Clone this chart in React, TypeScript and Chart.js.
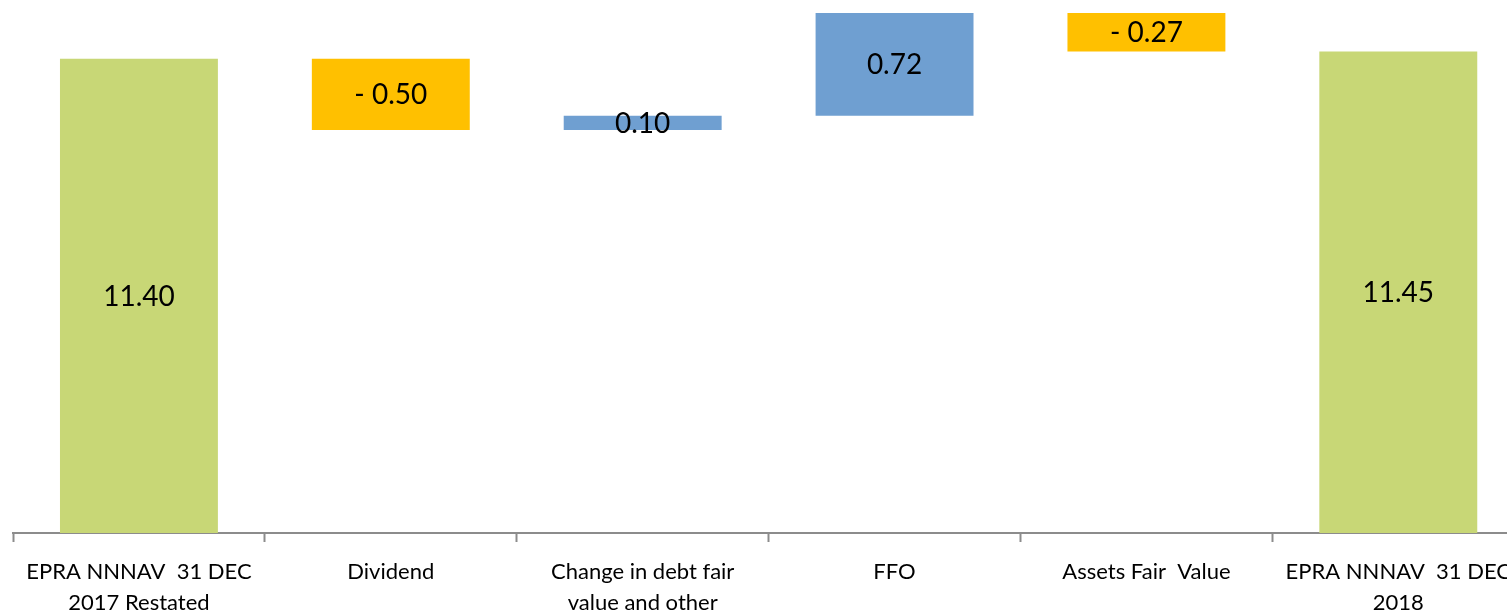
import React, { useEffect, useRef } from "react";
import { Chart, registerables } from "chart.js";

Chart.register(...registerables);

// NAV bridge, EUR per share
const categories: (string | string[])[] = [
  ["EPRA NNNAV  31 DEC", "2017 Restated"],
  "Dividend",
  ["Change in debt fair", "value and other"],
  "FFO",
  "Assets Fair  Value",
  ["EPRA NNNAV  31 DEC", "2018"],
];
const steps: number[] = [11.4, -0.5, 0.1, 0.72, -0.27, 11.45];
const isTotal: boolean[] = [true, false, false, false, false, true];

const Y_MIN = 8.076;
const Y_MAX = 11.811;

const GREEN = "#C8D776";
const YELLOW = "#FFC000";
const BLUE = "#6F9FD1";

// floating [from, to] ranges: totals rise from zero, steps chain from the running total
function buildRanges(): [number, number][] {
  let running = 0;
  return steps.map((v, i) => {
    if (isTotal[i]) {
      running = v;
      return [0, v];
    }
    const from = running;
    running = +(running + v).toFixed(4);
    return [from, running];
  });
}

function formatValue(v: number, total: boolean): string {
  if (total) return v.toFixed(2);
  return v < 0 ? "- " + Math.abs(v).toFixed(2) : v.toFixed(2);
}

const valueLabels = {
  id: "valueLabels",
  afterDatasetsDraw(chart: any) {
    const ctx = chart.ctx;
    const area = chart.chartArea;
    const meta = chart.getDatasetMeta(0);
    ctx.save();
    ctx.fillStyle = "#000";
    ctx.font = "28px Lato";
    ctx.textAlign = "center";
    ctx.textBaseline = "middle";
    meta.data.forEach((bar: any, i: number) => {
      const top = Math.max(Math.min(bar.y, bar.base), area.top);
      const bottom = Math.min(Math.max(bar.y, bar.base), area.bottom);
      ctx.fillText(formatValue(steps[i], isTotal[i]), bar.x, (top + bottom) / 2 + 1);
    });
    ctx.restore();
  },
};

export default function App() {
  const ref = useRef<HTMLCanvasElement>(null);

  useEffect(() => {
    if (!ref.current) return;
    const colors = steps.map((v, i) => (isTotal[i] ? GREEN : v < 0 ? YELLOW : BLUE));
    const chart = new Chart(ref.current, {
      type: "bar",
      data: {
        labels: categories as any,
        datasets: [
          {
            data: buildRanges() as any,
            backgroundColor: colors,
            borderWidth: 0,
            categoryPercentage: 0.627,
            barPercentage: 1,
          },
        ],
      },
      options: {
        animation: false,
        responsive: false,
        maintainAspectRatio: false,
        layout: { padding: { left: 13, right: 0, top: 0, bottom: 0 } },
        plugins: {
          legend: { display: false },
          tooltip: { enabled: false },
        },
        scales: {
          x: {
            grid: {
              offset: true,
              drawOnChartArea: false,
              drawTicks: true,
              tickLength: 9,
              tickWidth: 2,
              tickColor: "#8C8C8C",
            },
            border: { display: true, color: "#8C8C8C", width: 2 },
            ticks: {
              autoSkip: false,
              maxRotation: 0,
              minRotation: 0,
              color: "#000",
              padding: 14,
              font: { family: "Lato", size: 22, lineHeight: 1.42 },
            },
            afterFit(scale: any) {
              scale.height = 81;
            },
          },
          y: {
            display: false,
            min: Y_MIN,
            max: Y_MAX,
          },
        },
      },
      plugins: [valueLabels],
    });
    return () => chart.destroy();
  }, []);

  return (
    <div
      style={{
        position: "absolute",
        left: 0,
        top: 0,
        width: 1507,
        height: 614,
        overflow: "hidden",
        background: "#fff",
      }}
    >
      <canvas ref={ref} width={1525} height={614} style={{ display: "block" }} />
    </div>
  );
}
